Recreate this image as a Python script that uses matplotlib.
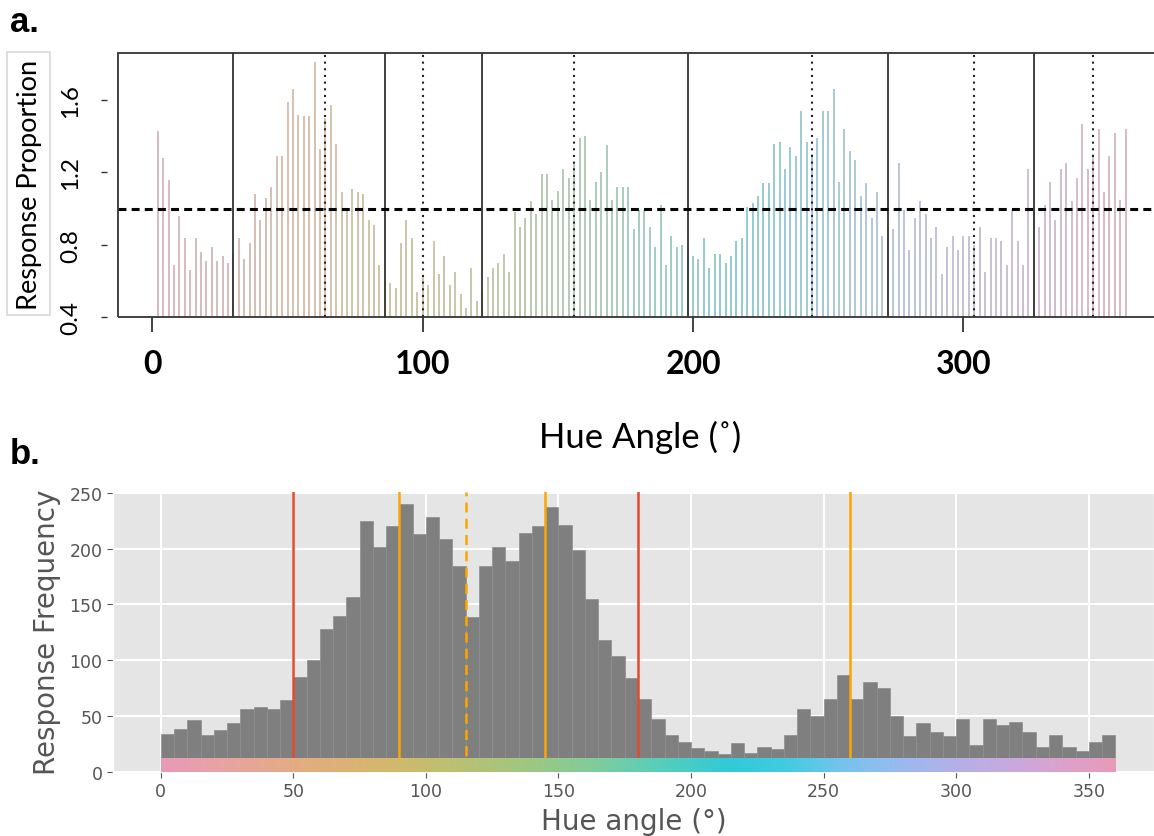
import numpy as np
import matplotlib
matplotlib.use("Agg")
import matplotlib.pyplot as plt
from matplotlib.colors import LinearSegmentedColormap, to_rgb
from matplotlib.patches import Rectangle

# panel a: response proportion per 2 degree hue step
prop_angles = list(range(2, 362, 2))
prop_values = [
    1.43, 1.28, 1.16, 0.69, 0.96, 0.84, 0.66, 0.84, 0.76, 0.71,
    0.79, 0.71, 0.74, 0.70, 0.75, 0.84, 0.72, 0.81, 1.08, 0.94,
    1.06, 1.12, 1.29, 1.29, 1.59, 1.66, 1.52, 1.51, 1.51, 1.81,
    1.33, 1.50, 1.57, 1.36, 1.09, 1.00, 1.11, 1.09, 1.08, 0.94,
    0.91, 0.69, 0.60, 0.59, 0.56, 0.81, 0.94, 0.84, 0.54, 0.62,
    0.58, 0.82, 0.64, 0.74, 0.58, 0.65, 0.53, 0.45, 0.67, 0.49,
    0.55, 0.62, 0.67, 0.70, 0.75, 0.65, 0.98, 0.90, 0.95, 1.04,
    0.97, 1.19, 1.19, 1.05, 1.10, 1.22, 1.17, 1.25, 1.39, 1.40,
    1.05, 1.15, 1.20, 1.35, 1.05, 1.12, 1.12, 1.12, 0.89, 0.99,
    0.99, 0.90, 0.79, 1.02, 0.69, 0.85, 0.79, 0.80, 0.78, 0.74,
    0.72, 0.84, 0.67, 0.75, 0.75, 0.70, 0.74, 0.82, 0.84, 1.01,
    1.03, 1.07, 1.14, 1.14, 1.36, 1.37, 1.22, 1.34, 1.29, 1.54,
    1.37, 1.30, 1.39, 1.54, 1.54, 1.66, 1.15, 1.44, 1.32, 1.27,
    1.07, 1.14, 0.95, 1.09, 0.85, 0.90, 0.89, 1.25, 0.99, 0.77,
    0.95, 1.04, 0.97, 0.84, 0.90, 0.64, 0.79, 0.85, 0.77, 0.85,
    0.85, 0.80, 0.90, 0.65, 0.84, 0.84, 0.82, 0.69, 0.99, 0.82,
    0.69, 1.22, 1.00, 0.90, 1.02, 1.15, 0.94, 1.22, 1.25, 1.04,
    1.17, 1.47, 1.22, 1.30, 1.44, 1.09, 1.29, 1.42, 1.05, 1.44,
]
category_bounds = [30, 86, 122, 198, 272, 326]
category_centres = [64, 100, 156, 244, 304, 348]

# panel b: response counts in 5 degree bins
freq_edges = list(range(0, 365, 5))
freq_counts = [
    34, 38, 46, 33, 37, 44, 56, 58, 56, 64,
    85, 100, 128, 140, 157, 225, 201, 220, 240, 213,
    228, 209, 184, 139, 184, 201, 189, 214, 220, 237,
    221, 199, 155, 118, 104, 84, 65, 47, 33, 27,
    21, 19, 16, 26, 17, 22, 20, 33, 56, 50,
    65, 87, 65, 80, 75, 50, 32, 44, 36, 32,
    47, 24, 47, 42, 45, 36, 22, 33, 22, 19,
    27, 33,
]
red_lines = [50, 180]
orange_lines = [90, 145, 260]
orange_dashed = [115]

# hue wheel colours
hue_stops = [0, 25, 55, 85, 110, 135, 160, 185, 215, 235, 255, 275, 300, 325, 345, 360]
hue_cols = ['#e89ab8', '#e8a4a0', '#e2ae7e', '#d4b86c', '#bcc072', '#a2c67e',
            '#84cc98', '#5cceb8', '#30cad8', '#40cce0', '#70c4ec', '#94bcf0',
            '#b4b0e8', '#cca8dc', '#e0a0c8', '#e89ab8']
hue_cmap = LinearSegmentedColormap.from_list(
    'hue', [(s / 360, c) for s, c in zip(hue_stops, hue_cols)])

fig = plt.figure(figsize=(11.54, 8.37), dpi=100)

# ---------------- panel a ----------------
axa = fig.add_axes([118 / 1154, 1 - 318.3 / 837, 1045 / 1154, 264.3 / 837])
grey = np.array(to_rgb('#c4c0c0'))
bar_cols = [0.42 * np.array(hue_cmap(a / 360)[:3]) + 0.58 * grey for a in prop_angles]
axa.vlines(prop_angles, 0.4, prop_values, colors=bar_cols, lw=1.25, zorder=1)
for b in category_bounds:
    axa.axvline(b, color='#333333', lw=1.3, zorder=3)
for c in category_centres:
    axa.axvline(c, color='#222222', lw=1.5, dashes=(1, 2.2), zorder=3)
axa.axhline(1.0, color='black', lw=2.2, dashes=(2.6, 1.7), zorder=4)
axa.set_xlim(-12.7, 373.8)
axa.set_ylim(0.4, 1.86)
for s in axa.spines.values():
    s.set_visible(False)
axa.add_patch(Rectangle((0, 0), 1, 1, transform=axa.transAxes, fill=False,
                        ec='#333333', lw=1.3, zorder=5, clip_on=False))
axa.spines['left'].set_position(('outward', 8))
axa.set_yticks([0.4, 0.8, 1.2, 1.6])
axa.set_yticklabels(['0.4', '0.8', '1.2', '1.6'], rotation=90, va='center',
                    family=['Lato', 'DejaVu Sans'], fontsize=17.5)
axa.tick_params(axis='y', length=4.5, width=1, color='#333333', pad=14)
axa.set_xticks([0, 100, 200, 300])
axa.set_xticklabels(['0', '100', '200', '300'], family=['Lato', 'DejaVu Sans'],
                    fontsize=23, fontweight='bold')
axa.tick_params(axis='x', length=11, width=1.3, color='#333333', pad=12)

fig.text(30 / 1154, 1 - 185 / 837, 'Response Proportion', rotation=90,
         ha='center', va='center', fontsize=19.5, family=['Lato', 'DejaVu Sans'])
fig.patches.append(Rectangle((7 / 1154, 1 - 316 / 837), 43 / 1154, 263 / 837,
                             transform=fig.transFigure, fill=False,
                             ec='#d8d8d8', lw=1.2))
fig.text(640 / 1154, 1 - 437 / 837, 'Hue Angle (˚)', ha='center', va='center',
         fontsize=25, family=['Lato', 'DejaVu Sans'])
fig.text(10 / 1154, 1 - 22 / 837, 'a.', fontsize=25, fontweight='bold',
         va='center', family=['Liberation Sans', 'DejaVu Sans'])
fig.text(10 / 1154, 1 - 455 / 837, 'b.', fontsize=25, fontweight='bold',
         va='center', family=['Liberation Sans', 'DejaVu Sans'])

# ---------------- panel b ----------------
with plt.style.context('ggplot'):
    axb = fig.add_axes([113 / 1154, 1 - 772.7 / 837, 1041 / 1154, 280 / 837])
    axb.bar(freq_edges[:-1], freq_counts, width=5, align='edge',
            color='#7f7f7f', edgecolor='#8e8e8e', lw=0.5, zorder=2)
    for x in red_lines:
        axb.axvline(x, color='#e24a33', lw=1.8, zorder=3)
    for x in orange_lines:
        axb.axvline(x, color='#ffa500', lw=1.8, zorder=3)
    for x in orange_dashed:
        axb.axvline(x, color='#ffa500', lw=1.8, dashes=(4, 2.5), zorder=3)
    grad = np.linspace(0, 1, 512).reshape(1, -1)
    axb.imshow(grad, cmap=hue_cmap, extent=[0, 360, 0, 12], aspect='auto',
               zorder=4, interpolation='bilinear')
    axb.set_xlim(-18, 374.6)
    axb.set_ylim(0, 251)
    axb.set_xticks(range(0, 351, 50))
    axb.set_yticks(range(0, 251, 50))
    axb.grid(True, color='white', lw=1.4)
    axb.set_axisbelow(True)
    axb.tick_params(labelsize=12.5, colors='#555555', length=4)
    axb.tick_params(axis='both', labelcolor='#555555')
    axb.set_ylabel('Response Frequency', fontsize=20, color='#555555', labelpad=6)
    axb.set_xlabel('Hue angle (°)', fontsize=20, color='#555555', labelpad=5)

fig.savefig('out.png', dpi=100)
